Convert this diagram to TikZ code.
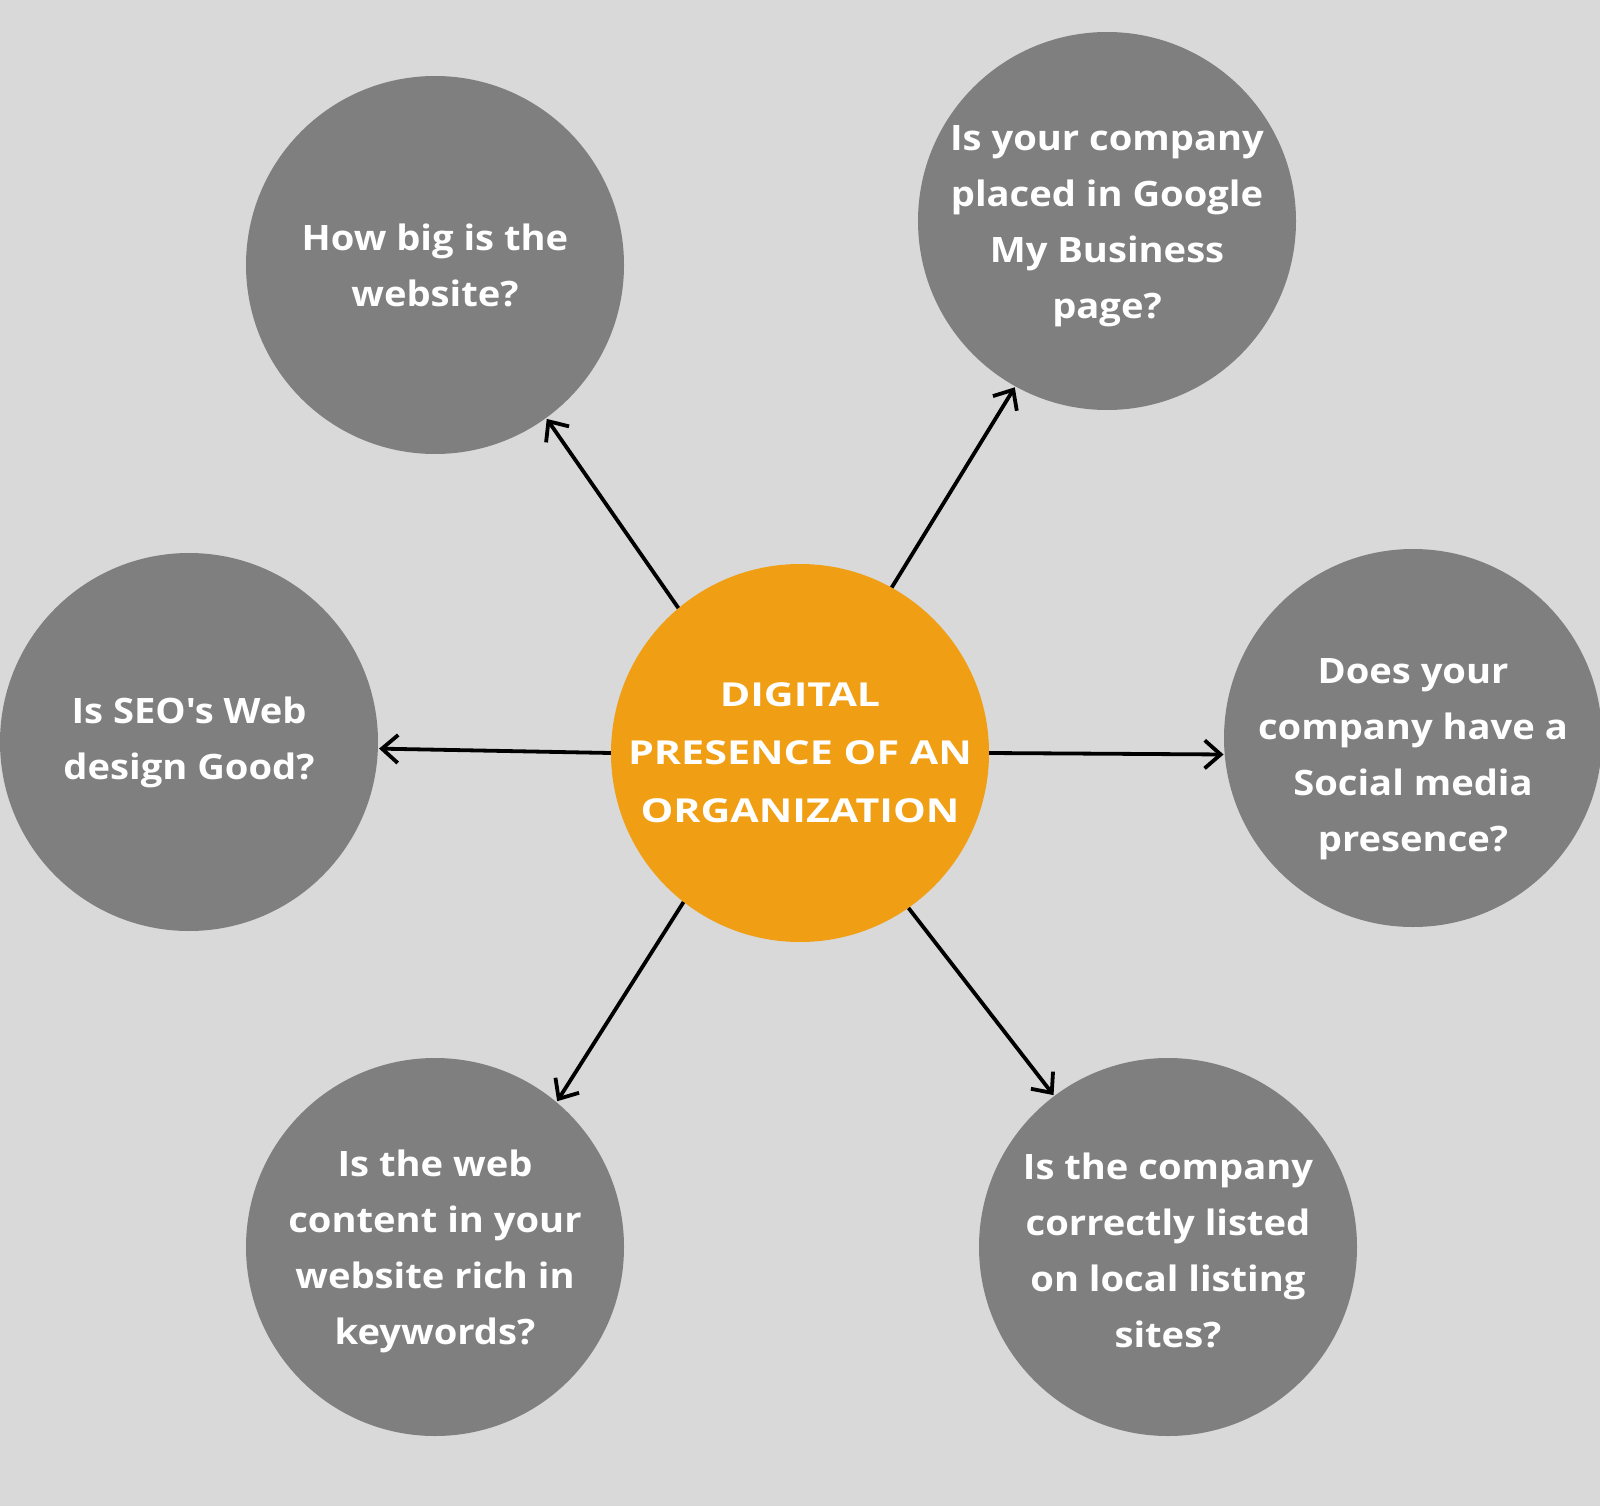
\documentclass[tikz,border=0pt]{standalone}
\usepackage{fontspec}
\setmainfont{Open Sans}[Ligatures=TeXOff]
\newfontfamily\bubblefont{Open Sans}[Ligatures=TeXOff, FakeStretch=1.09]
\newfontfamily\hubfont{Open Sans}[Ligatures=TeXOff, FakeStretch=1.25]
\usetikzlibrary{arrows.meta}
\definecolor{bgc}{HTML}{D9D9D9}
\definecolor{greyc}{HTML}{7F7F7F}
\definecolor{orangec}{HTML}{F09E14}
\tikzset{
  bubbletext/.style={align=center, text=white, font=\bubblefont\bfseries\fontsize{35}{56}\selectfont},
  bubble/.style={circle, fill=greyc, minimum size=378pt, inner sep=0pt, bubbletext},
  bubblefour/.style={circle, fill=greyc, minimum size=378pt, inner sep=0pt,
    label={[bubbletext, yshift=#1]center:\bubblelines}},
  hub/.style={circle, fill=orangec, minimum size=378pt, inner sep=0pt, align=center,
    text=white, font=\hubfont\bfseries\fontsize{33}{58}\selectfont},
  link/.style={line width=3.8pt, draw=black, -{Straight Barb[length=16pt,width=28pt,line width=3.8pt]}, shorten >=1pt}
}
\begin{document}
\begin{tikzpicture}[x=1pt,y=-1pt]
\fill[bgc] (0,0) rectangle (1600,1506);
\useasboundingbox (0,0) rectangle (1600,1506);
\node[hub] (c) at (800,753) {DIGITAL\\PRESENCE OF AN\\ORGANIZATION};
\node[bubble] (tl) at (435,265) {How big is the\\website?};
\def\bubblelines{Is your company\\placed in Google\\My Business\\page?}
\node[bubblefour=-5pt] (tr) at (1107,221) {};
\node[bubble] (l) at (189,742) {Is SEO's Web\\design Good?};
\def\bubblelines{Does your\\company have a\\Social media\\presence?}
\node[bubblefour=-21pt] (r) at (1413,738) {};
\def\bubblelines{Is the web\\content in your\\website rich in\\keywords?}
\node[bubblefour=-4pt] (bl) at (435,1247) {};
\def\bubblelines{Is the company\\correctly listed\\on local listing\\sites?}
\node[bubblefour=-3pt] (br) at (1168,1247) {};
\draw[link] (c.130) -- (tl.-54.5);
\draw[link] (c.61.5) -- (tr.241.6);
\draw[link] (c.180.5) -- (l.-2);
\draw[link] (c.0) -- (r.185);
\draw[link] (c.232.5) -- (bl.50.3);
\draw[link] (c.-55.7) -- (br.127.4);
\end{tikzpicture}
\end{document}
